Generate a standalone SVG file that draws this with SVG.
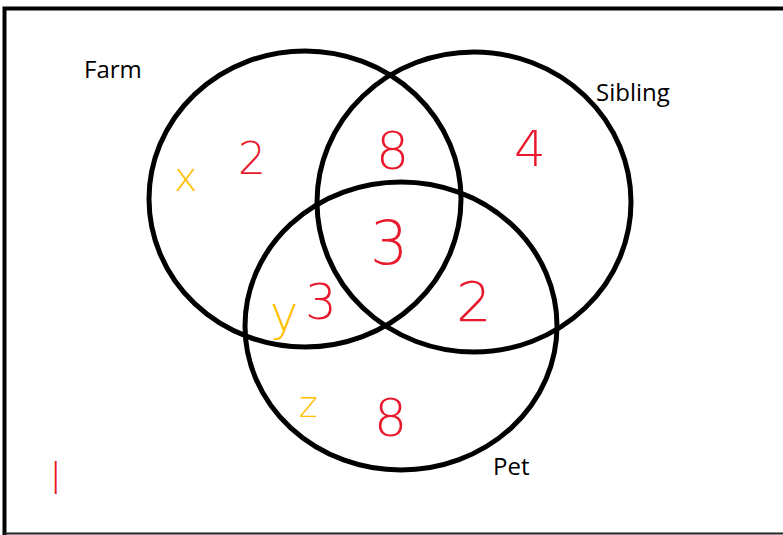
<svg xmlns="http://www.w3.org/2000/svg" width="783" height="535" viewBox="0 0 783 535">
<style>
.c{fill:none;stroke:#000;stroke-width:5}
.lbl{font-family:"Open Sans","Liberation Sans",Arial,sans-serif;font-size:24px;fill:#000}
.r{font-family:"DejaVu Sans","Liberation Sans",sans-serif;font-weight:200;fill:#e8192c}
.y{font-family:"DejaVu Sans","Liberation Sans",sans-serif;font-weight:200;fill:#ffc000}
</style>
<rect width="783" height="535" fill="#fff"/>
<path d="M4.5 535V8.5H783" fill="none" stroke="#000" stroke-width="4"/>
<line x1="4" y1="533.5" x2="783" y2="533.5" stroke="#222" stroke-width="2"/>
<g id="farm"><ellipse class="c" cx="305" cy="199" rx="156" ry="148"/><text class="lbl" x="84" y="78">Farm</text></g>
<g id="sibling"><ellipse class="c" cx="474" cy="202" rx="157" ry="150"/><text class="lbl" x="596" y="101">Sibling</text></g>
<g id="pet"><ellipse class="c" cx="401" cy="326" rx="156" ry="144"/><text class="lbl" x="493" y="475">Pet</text></g>
<g id="values">
<text class="y" x="174" y="191" font-size="40">x</text>
<text class="r" x="238" y="174" font-size="44">2</text>
<text class="r" x="376" y="169" font-size="52">8</text>
<text class="r" x="514" y="166" font-size="50">4</text>
<text class="r" x="370" y="264" font-size="60">3</text>
<text class="y" x="270" y="330" font-size="48">y</text>
<text class="r" x="305" y="319" font-size="50">3</text>
<text class="r" x="456" y="321" font-size="56">2</text>
<text class="y" x="299" y="417" font-size="36">z</text>
<text class="r" x="374" y="436" font-size="52">8</text>
<text class="r" x="50" y="494" font-size="42">l</text>
</g>
</svg>
